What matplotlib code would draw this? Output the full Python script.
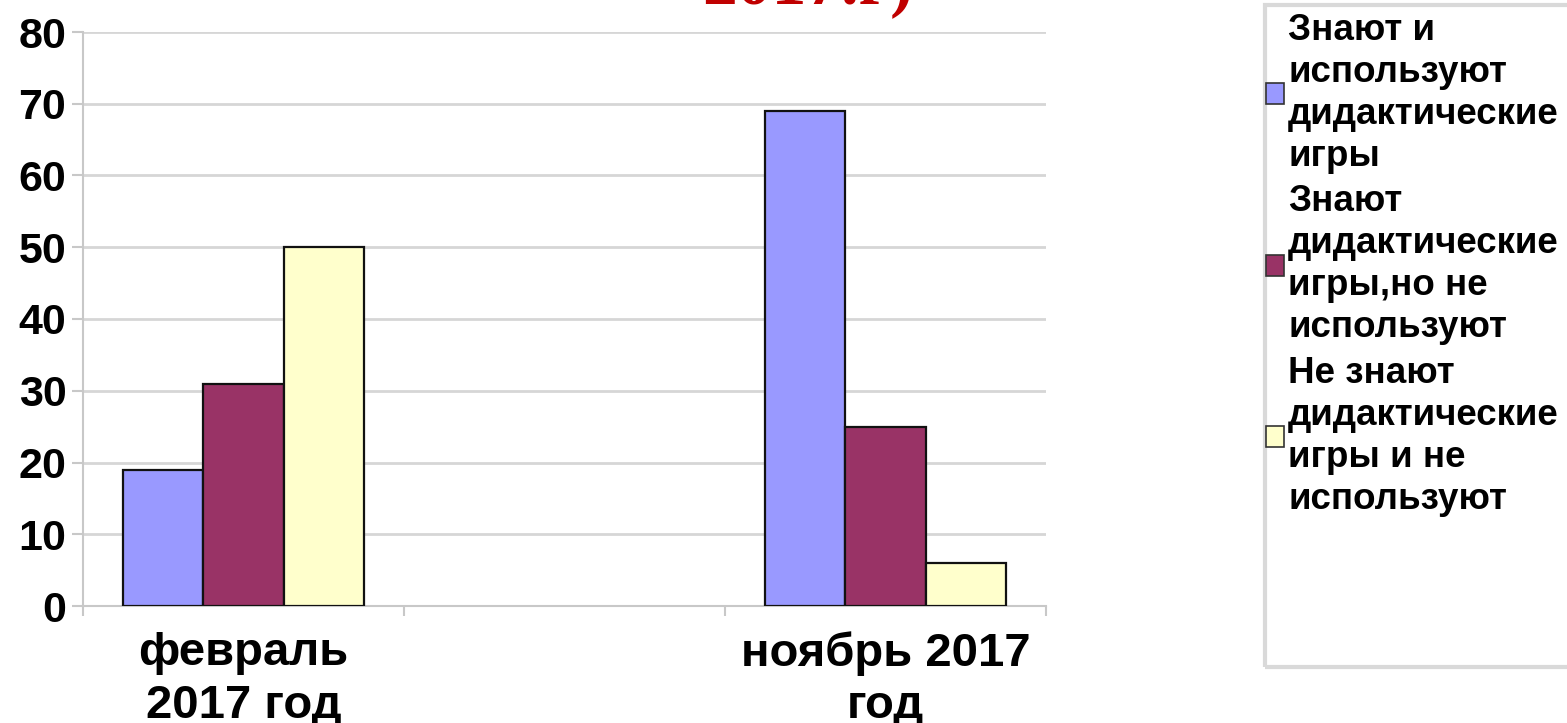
import numpy as np
import matplotlib
matplotlib.use("Agg")
import matplotlib.pyplot as plt
from matplotlib.patches import Rectangle, Patch

categories = ["февраль\n2017 год", "", "ноябрь 2017\nгод"]
series_names = [
    "Знают и\nиспользуют\nдидактические\nигры",
    "Знают\nдидактические\nигры,но не\nиспользуют",
    "Не знают\nдидактические\nигры и не\nиспользуют",
]
know_use = [19, np.nan, 69]
know_not_use = [31, np.nan, 25]
not_know = [50, np.nan, 6]
series_values = [know_use, know_not_use, not_know]
colors = ["#9999FF", "#993366", "#FFFFCC"]
yticks = [0, 10, 20, 30, 40, 50, 60, 70, 80]
title_tail = "2017.г)"

FONT = "Liberation Sans"
W, H = 1567, 723
fig = plt.figure(figsize=(W / 100, H / 100), dpi=100)
ax = fig.add_axes([83 / W, 1 - 606 / H, (1046 - 83) / W, (606 - 32) / H])

x = np.arange(len(categories))
bw = 0.25
for i, (vals, c, name) in enumerate(zip(series_values, colors, series_names)):
    ax.bar(x + (i - 1) * bw, vals, width=bw, color=c, edgecolor="#111111",
           linewidth=1.6, label=name, zorder=3)

ax.set_xlim(-0.5, len(categories) - 0.5)
ax.set_ylim(0, 80)
ax.set_yticks(yticks)
ax.set_yticklabels([str(v) for v in yticks])
ax.yaxis.grid(True, color="#d6d6d6", linewidth=2, zorder=0)
ax.set_axisbelow(True)

ax.set_xticks(np.arange(len(categories) + 1) - 0.5)
ax.set_xticklabels([])
ax.set_xticks(x, minor=True)
ax.set_xticklabels(categories, minor=True)
ax.tick_params(axis="x", which="major", length=7, width=1.5, color="#c8c8c8", direction="out")
ax.tick_params(axis="x", which="minor", length=0, pad=18)
ax.tick_params(axis="y", length=8, width=1.5, color="#c8c8c8", pad=4)

for lbl in ax.get_xticklabels(minor=True):
    lbl.set_fontsize(34)
    lbl.set_fontweight("bold")
    lbl.set_fontfamily(FONT)
    lbl.set_linespacing(1.25)
for lbl in ax.get_yticklabels():
    lbl.set_fontsize(31)
    lbl.set_fontweight("bold")
    lbl.set_fontfamily(FONT)

for s in ["top", "right"]:
    ax.spines[s].set_visible(False)
for s in ["left", "bottom"]:
    ax.spines[s].set_color("#c8c8c8")
    ax.spines[s].set_linewidth(1.5)

# legend frame
fig.patches.append(Rectangle((1265 / W, 1 - 667 / H), (W + 20 - 1265) / W, (667 - 5) / H,
                             transform=fig.transFigure, facecolor="none",
                             edgecolor="#d9d9d9", linewidth=3, clip_on=False))
handles = [Patch(facecolor=c, edgecolor="#333333", linewidth=1.2) for c in colors]
leg = fig.legend(handles, series_names, loc="upper left",
                 bbox_to_anchor=(1266 / W, 1 - 13 / H), frameon=False,
                 prop={"family": FONT, "weight": "bold", "size": 26.5},
                 handlelength=0.5, handleheight=0.5, handletextpad=0.1,
                 labelspacing=0.28, borderpad=0.0, borderaxespad=0)
for t in leg.get_texts():
    t.set_linespacing(1.26)

fig.text(808 / W, 1 - 4 / H, title_tail, color="#C00000", fontfamily="Liberation Serif",
         fontweight="bold", fontsize=50, ha="center", va="baseline")

fig.savefig("out.png", dpi=100)
